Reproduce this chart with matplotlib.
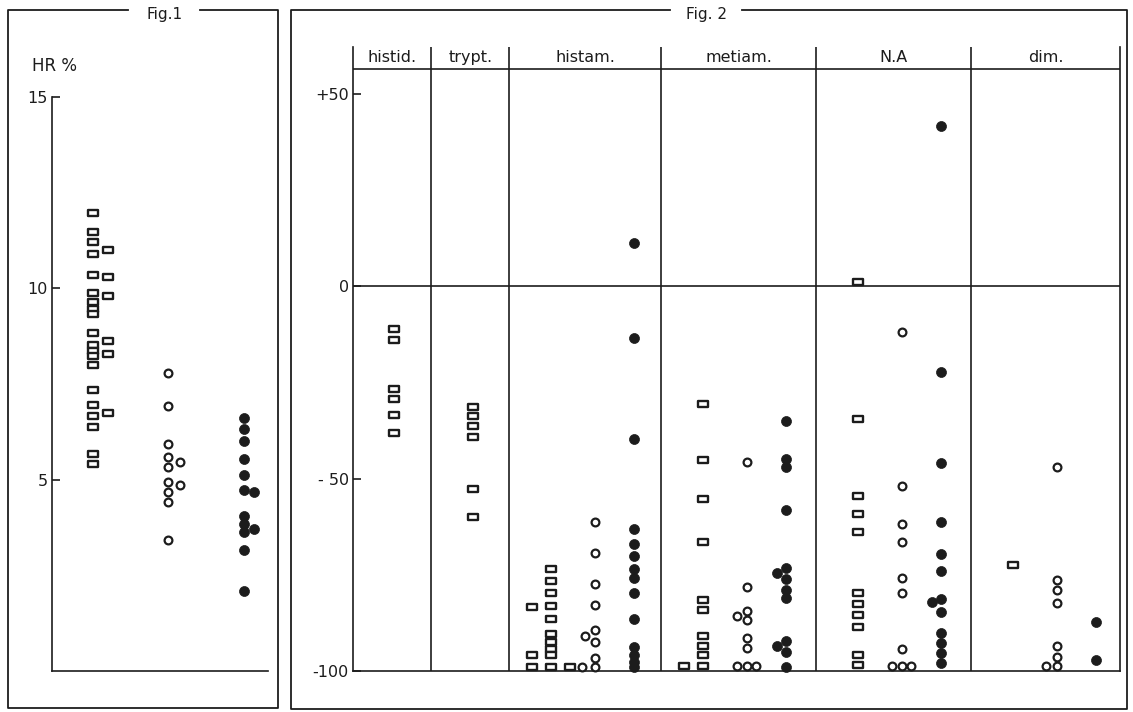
import matplotlib.pyplot as plt
from matplotlib.lines import Line2D
from matplotlib.path import Path

W, H = 1133, 712

# ---- Fig.1 : HR % for the three groups ----
hr_ticks = [5, 10, 15]
hr_squares = [11.98, 11.47, 11.21, 10.91, 10.35, 9.88, 9.65, 9.46, 9.32, 8.82,
              8.51, 8.35, 8.23, 8.0, 7.35, 6.96, 6.67, 6.37, 5.68, 5.40]
hr_squares_side = [11.0, 10.29, 9.81, 8.63, 8.28, 6.73]
hr_open = [7.78, 6.93, 5.93, 5.60, 5.34, 4.93, 4.67, 4.42, 3.43]
hr_open_side = [5.46, 4.85]
hr_filled = [6.60, 6.32, 6.01, 5.54, 5.13, 4.73, 4.04, 3.84, 3.63, 3.16, 2.08]
hr_filled_side = [4.69, 3.72]

# ---- Fig.2 : change per substance ----
panels = ['histid.', 'trypt.', 'histam.', 'metiam.', 'N.A', 'dim.']
change_ticks = [-100, -50, 0, 50]
change_ticklabels = ['-100', '- 50', '0', '+50']

histid_sq = [-11.2, -13.9, -26.8, -29.4, -33.5, -38.3]
trypt_sq = [-31.4, -33.8, -36.4, -39.3, -52.7, -59.9]

histam_sq = [-73.6, -76.6, -79.7, -83.2, -86.4, -90.4, -92.5, -94.2, -95.8, -99.0,
             -83.3, -95.8, -99.0, -99.0]
histam_sq_shift = [0, 0, 0, 0, 0, 0, 0, 0, 0, 0, -2, -2, -2, 2]
histam_op = [-61.2, -69.3, -77.5, -82.9, -89.4, -92.4, -96.7, -99.0, -90.8, -99.0]
histam_op_shift = [0, 0, 0, 0, 0, 0, 0, 0, -1, -1.4]
histam_fi = [11.2, -13.6, -39.8, -63.0, -66.9, -70.2, -73.5, -75.9, -79.8, -86.5,
             -93.7, -95.8, -97.6, -99.0]

metiam_sq = [-30.6, -45.2, -55.4, -66.4, -81.6, -84.2, -90.9, -93.5, -95.8, -98.7, -98.7]
metiam_sq_shift = [0, 0, 0, 0, 0, 0, 0, 0, 0, 0, -2]
metiam_op = [-45.6, -78.1, -84.3, -86.8, -91.5, -94.1, -98.7, -85.7, -98.7, -98.7]
metiam_op_shift = [0, 0, 0, 0, 0, 0, 0, -1, -1, 1]
metiam_fi = [-35.0, -44.8, -46.9, -58.2, -73.3, -76.2, -79.0, -81.1, -92.1, -95.0,
             -98.9, -74.5, -93.5]
metiam_fi_shift = [0, 0, 0, 0, 0, 0, 0, 0, 0, 0, 0, -1, -1]

na_sq = [1.1, -34.5, -54.5, -59.3, -63.8, -79.7, -82.6, -85.5, -88.5, -95.8, -98.4]
na_op = [-12.0, -51.9, -61.9, -66.6, -75.9, -79.7, -94.4, -98.6, -98.6, -98.6]
na_op_shift = [0, 0, 0, 0, 0, 0, 0, 0, -1, 1]
na_fi = [41.6, -22.3, -45.9, -61.2, -69.6, -73.9, -81.4, -84.6, -90.2, -92.8,
         -95.2, -97.8, -82.2]
na_fi_shift = [0, 0, 0, 0, 0, 0, 0, 0, 0, 0, 0, 0, -1]

dim_sq = [-72.5]
dim_op = [-46.9, -76.4, -79.0, -82.3, -93.5, -96.3, -98.7, -98.7]
dim_op_shift = [0, 0, 0, 0, 0, 0, 0, -1.1]
dim_fi = [-87.2, -97.1]

INK = '#1c1c1c'
plt.rcParams['font.family'] = ['DejaVu Sans']

# small flat rectangle used for the "square" symbols
rect = Path([(-1, -0.55), (1, -0.55), (1, 0.55), (-1, 0.55), (-1, -0.55)],
            [Path.MOVETO, Path.LINETO, Path.LINETO, Path.LINETO, Path.CLOSEPOLY])
SQ = dict(marker=rect, ms=7.4, mew=1.7, mfc='white', mec=INK, ls='none', clip_on=False, zorder=4)
OP = dict(marker='o', ms=5.6, mew=1.6, mfc='white', mec=INK, ls='none', clip_on=False, zorder=4)
FI = dict(marker='o', ms=7.2, mew=0.5, mfc=INK, mec=INK, ls='none', clip_on=False, zorder=4)


def fx(x):
    return x / W


def fy(y):
    return 1 - y / H


def fig_line(fig, xs, ys, lw=1.3):
    fig.add_artist(Line2D([fx(x) for x in xs], [fy(y) for y in ys],
                          transform=fig.transFigure, color=INK, lw=lw))


fig = plt.figure(figsize=(W / 100, H / 100), dpi=100)
fig.patch.set_facecolor('white')

# ---------------- Fig.1 ----------------
ax1 = fig.add_axes([fx(52), fy(671), (268 - 52) / W, (671 - 97) / H])
ax1.set_ylim(0, 15)
ax1.set_xlim(0.457, 3.318)
for s in ['top', 'right']:
    ax1.spines[s].set_visible(False)
for s in ['left', 'bottom']:
    ax1.spines[s].set_color(INK)
    ax1.spines[s].set_linewidth(1.2)
ax1.set_xticks([])
ax1.set_yticks(hr_ticks)
ax1.set_yticklabels([str(t) for t in hr_ticks])
ax1.tick_params(axis='y', direction='in', length=6, width=1.2, color=INK,
                labelsize=11.5, pad=3, labelcolor=INK)

ax1.plot([1] * len(hr_squares), hr_squares, **SQ)
ax1.plot([1.2] * len(hr_squares_side), hr_squares_side, **SQ)
ax1.plot([2] * len(hr_open), hr_open, **OP)
ax1.plot([2.146] * len(hr_open_side), hr_open_side, **OP)
ax1.plot([3] * len(hr_filled), hr_filled, **FI)
ax1.plot([3.132] * len(hr_filled_side), hr_filled_side, **FI)

fig.text(fx(55), fy(66), 'HR %', ha='center', va='center', fontsize=12, color=INK)

# ---------------- Fig.2 ----------------
top_val = 62.1
ax2 = fig.add_axes([fx(353), fy(671), (1120 - 353) / W, (671 - 47) / H])
ax2.set_ylim(-100, top_val)
ax2.set_xlim(0, 5)
ax2.spines['top'].set_visible(False)
for s in ['left', 'bottom', 'right']:
    ax2.spines[s].set_color(INK)
    ax2.spines[s].set_linewidth(1.2)
ax2.set_xticks([])
ax2.set_yticks(change_ticks)
ax2.set_yticklabels(change_ticklabels)
ax2.tick_params(axis='y', direction='in', length=6, width=1.2, color=INK,
                labelsize=11.5, pad=3, labelcolor=INK)

bounds = [0, 0.51, 1.02, 2.01, 3.02, 4.03, 5.0]
for b in bounds[1:-1]:
    ax2.axvline(b, color=INK, lw=1.2)
ax2.axhline(0, color=INK, lw=1.2)
ax2.axhline(56.4, color=INK, lw=1.2)

for i, name in enumerate(panels):
    ax2.text((bounds[i] + bounds[i + 1]) / 2, 59.4, name, ha='center', va='center',
             fontsize=11.5, color=INK)

step = 0.062
sq_off, op_off, fi_off = 0.27, 0.557, 0.815


def strip(ax, start, off, values, shifts, style):
    if shifts is None:
        shifts = [0] * len(values)
    xs = [start + off + s * step for s in shifts]
    ax.plot(xs, values, **style)


strip(ax2, bounds[0], sq_off, histid_sq, None, SQ)
strip(ax2, bounds[1], sq_off, trypt_sq, None, SQ)

strip(ax2, bounds[2], sq_off, histam_sq, histam_sq_shift, SQ)
strip(ax2, bounds[2], op_off, histam_op, histam_op_shift, OP)
strip(ax2, bounds[2], fi_off, histam_fi, None, FI)

strip(ax2, bounds[3], sq_off, metiam_sq, metiam_sq_shift, SQ)
strip(ax2, bounds[3], op_off, metiam_op, metiam_op_shift, OP)
strip(ax2, bounds[3], fi_off, metiam_fi, metiam_fi_shift, FI)

strip(ax2, bounds[4], sq_off, na_sq, None, SQ)
strip(ax2, bounds[4], op_off, na_op, na_op_shift, OP)
strip(ax2, bounds[4], fi_off, na_fi, na_fi_shift, FI)

strip(ax2, bounds[5], sq_off, dim_sq, None, SQ)
strip(ax2, bounds[5], op_off, dim_op, dim_op_shift, OP)
strip(ax2, bounds[5], fi_off, dim_fi, None, FI)

# ---------------- frames ----------------
# Fig.1 box, broken at the title
fig_line(fig, [128, 8, 8, 278, 278, 200], [10, 10, 708, 708, 10, 10])
fig.text(fx(165), fy(14), 'Fig.1', ha='center', va='center', fontsize=11, color=INK)
# Fig.2 box, broken at the title
fig_line(fig, [670, 291, 291, 1127, 1127, 742], [10, 10, 709, 709, 10, 10])
fig.text(fx(706), fy(15), 'Fig. 2', ha='center', va='center', fontsize=11, color=INK)

fig.savefig('out.png', dpi=100, facecolor='white')
